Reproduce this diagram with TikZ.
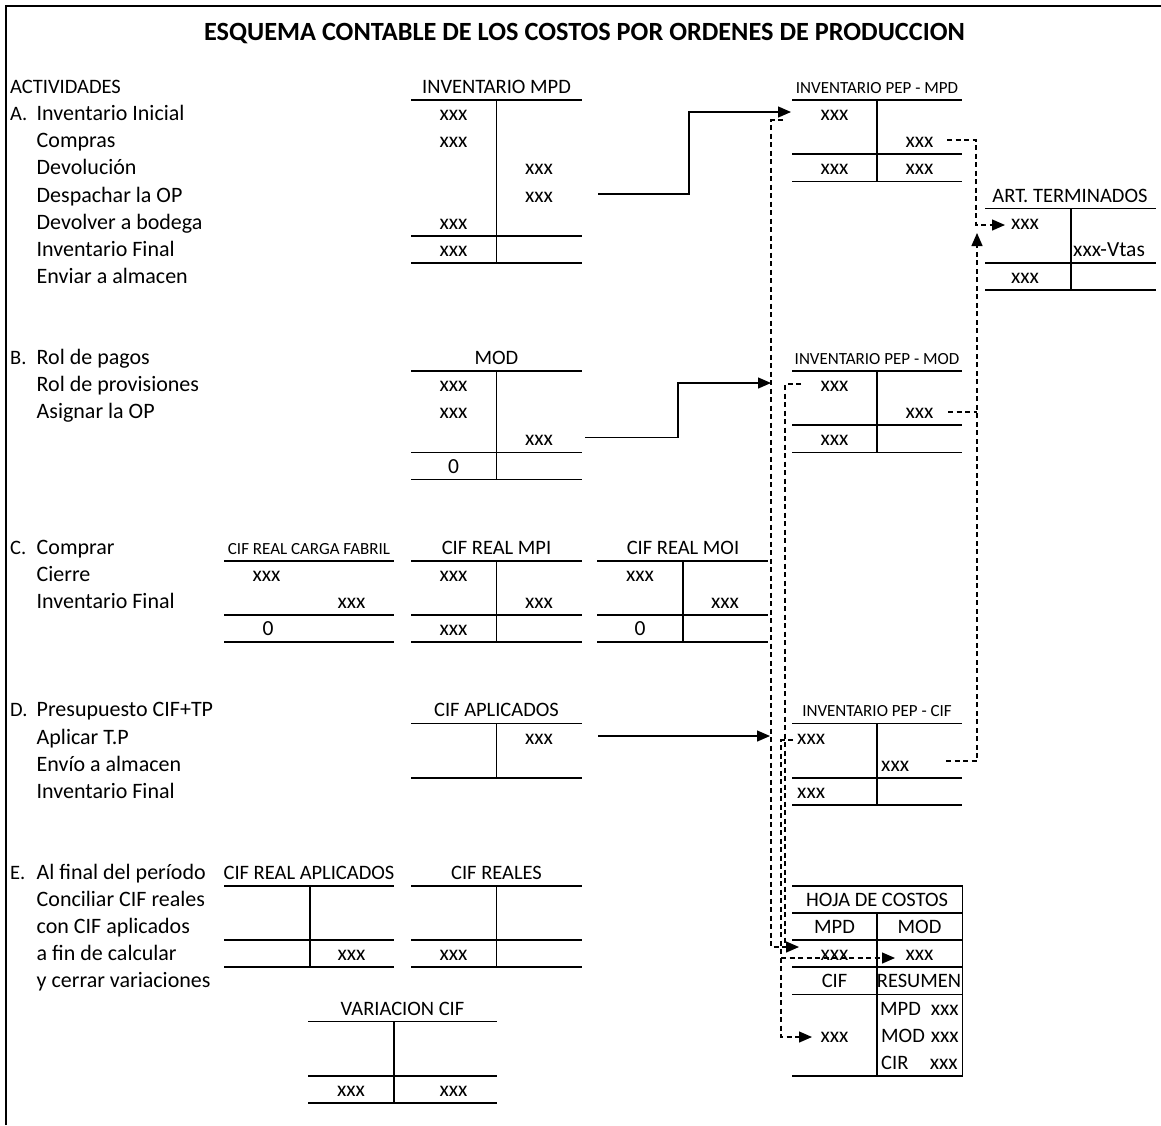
\documentclass[tikz,border=0pt]{standalone}
\usepackage{fontspec}
\setmainfont{Carlito}
\usetikzlibrary{arrows.meta}
\newcommand\rowB[1]{(93.6+27.1*(#1))}
\newcommand\rowT[1]{(73+27.1*(#1))}
\begin{document}
\begin{tikzpicture}[x=1pt,y=-1pt,
  tx/.style={inner sep=0pt, anchor=base, font=\fontsize{20.5}{24}\selectfont},
  txl/.style={tx, anchor=base west},
  txr/.style={tx, anchor=base east},
  lab/.style={inner sep=0pt, anchor=base west, font=\fontsize{22}{26}\selectfont},
  xx/.style={inner sep=0pt, anchor=base, font=\fontsize{21.5}{25}\selectfont},
  xxl/.style={xx, anchor=base west},
  xxr/.style={xx, anchor=base east},
  sm/.style={inner sep=0pt, anchor=base, font=\fontsize{17}{20}\selectfont},
  ttl/.style={inner sep=0pt, anchor=base, font=\fontsize{26.3}{30}\selectfont\bfseries},
  tline/.style={line width=1.8pt},
  conn/.style={line width=1.3pt},
  dconn/.style={line width=1.3pt, dash pattern=on 5pt off 3.5pt},
  tip/.style={-{Triangle[length=13pt,width=11pt]}}
]
\useasboundingbox (0,0) rectangle (1161,1125);
\draw[line width=1.3pt] (6,1125) -- (6,6) -- (1161,6);
\node[ttl] (title) at (584.5,40) {ESQUEMA CONTABLE DE LOS COSTOS POR ORDENES DE PRODUCCION};

% ---------- activities column
\node[txl] (act) at (10,{\rowB{0}}) {ACTIVIDADES};
\node[txl] (lA) at (10,{\rowB{1}}) {A.};
\node[lab] (a1) at (36.5,{\rowB{1}}) {Inventario Inicial};
\node[lab] (a2) at (36.5,{\rowB{2}}) {Compras};
\node[lab] (a3) at (36.5,{\rowB{3}}) {Devolución};
\node[lab] (a4) at (36.5,{\rowB{4}}) {Despachar la OP};
\node[lab] (a5) at (36.5,{\rowB{5}}) {Devolver a bodega};
\node[lab] (a6) at (36.5,{\rowB{6}}) {Inventario Final};
\node[lab] (a7) at (36.5,{\rowB{7}}) {Enviar a almacen};
\node[txl] (lB) at (10,{\rowB{10}}) {B.};
\node[lab] (b1) at (36.5,{\rowB{10}}) {Rol de pagos};
\node[lab] (b2) at (36.5,{\rowB{11}}) {Rol de provisiones};
\node[lab] (b3) at (36.5,{\rowB{12}}) {Asignar la OP};
\node[txl] (lC) at (10,{\rowB{17}}) {C.};
\node[lab] (c1) at (36.5,{\rowB{17}}) {Comprar};
\node[lab] (c2) at (36.5,{\rowB{18}}) {Cierre};
\node[lab] (c3) at (36.5,{\rowB{19}}) {Inventario Final};
\node[txl] (lD) at (10,{\rowB{23}}) {D.};
\node[lab] (d1) at (36.5,{\rowB{23}}) {Presupuesto CIF+TP};
\node[lab] (d2) at (36.5,{\rowB{24}}) {Aplicar T.P};
\node[lab] (d3) at (36.5,{\rowB{25}}) {Envío a almacen};
\node[lab] (d4) at (36.5,{\rowB{26}}) {Inventario Final};
\node[txl] (lE) at (10,{\rowB{29}}) {E.};
\node[lab] (e1) at (36.5,{\rowB{29}}) {Al final del período};
\node[lab] (e2) at (36.5,{\rowB{30}}) {Conciliar CIF reales};
\node[lab] (e3) at (36.5,{\rowB{31}}) {con CIF aplicados};
\node[lab] (e4) at (36.5,{\rowB{32}}) {a fin de calcular};
\node[lab] (e5) at (36.5,{\rowB{33}}) {y cerrar variaciones};

% ---------- INVENTARIO MPD
\node[tx] (hMPD) at (496.5,{\rowB{0}}) {INVENTARIO MPD};
\draw[tline] (411,{\rowT{1}}) -- (582,{\rowT{1}});
\draw[tline] (496.5,{\rowT{1}}) -- (496.5,{\rowT{7}});
\draw[tline] (411,{\rowT{6}}) -- (582,{\rowT{6}});
\draw[tline] (411,{\rowT{7}}) -- (582,{\rowT{7}});
\node[xx] (m1) at (453.5,{\rowB{1}}) {xxx};
\node[xx] (m2) at (453.5,{\rowB{2}}) {xxx};
\node[xx] (m3) at (539,{\rowB{3}}) {xxx};
\node[xx] (m4) at (539,{\rowB{4}}) {xxx};
\node[xx] (m5) at (453.5,{\rowB{5}}) {xxx};
\node[xx] (m6) at (453.5,{\rowB{6}}) {xxx};

% ---------- MOD
\node[tx] (hMOD) at (496.5,{\rowB{10}}) {MOD};
\draw[tline] (411,{\rowT{11}}) -- (582,{\rowT{11}});
\draw[tline] (496.5,{\rowT{11}}) -- (496.5,{\rowT{15}});
\draw[tline] (411,{\rowT{14}}) -- (582,{\rowT{14}});
\draw[tline] (411,{\rowT{15}}) -- (582,{\rowT{15}});
\node[xx] (o1) at (453.5,{\rowB{11}}) {xxx};
\node[xx] (o2) at (453.5,{\rowB{12}}) {xxx};
\node[xx] (o3) at (539,{\rowB{13}}) {xxx};
\node[xx] (o4) at (453.5,{\rowB{14}}) {0};

% ---------- CIF REAL CARGA FABRIL
\node[sm] (hCF) at (309,{\rowB{17}}) {CIF REAL CARGA FABRIL};
\draw[tline] (224,{\rowT{18}}) -- (394,{\rowT{18}});
\draw[tline] (224,{\rowT{20}}) -- (394,{\rowT{20}});
\draw[tline] (224,{\rowT{21}}) -- (394,{\rowT{21}});
\node[xx] (f1) at (266.5,{\rowB{18}}) {xxx};
\node[xx] (f2) at (351.5,{\rowB{19}}) {xxx};
\node[xx] (f3) at (268,{\rowB{20}}) {0};

% ---------- CIF REAL MPI
\node[tx] (hMPI) at (496.5,{\rowB{17}}) {CIF REAL MPI};
\draw[tline] (411,{\rowT{18}}) -- (582,{\rowT{18}});
\draw[tline] (496.5,{\rowT{18}}) -- (496.5,{\rowT{21}});
\draw[tline] (411,{\rowT{20}}) -- (582,{\rowT{20}});
\draw[tline] (411,{\rowT{21}}) -- (582,{\rowT{21}});
\node[xx] (p1) at (453.5,{\rowB{18}}) {xxx};
\node[xx] (p2) at (539,{\rowB{19}}) {xxx};
\node[xx] (p3) at (453.5,{\rowB{20}}) {xxx};

% ---------- CIF REAL MOI
\node[tx] (hMOI) at (683,{\rowB{17}}) {CIF REAL MOI};
\draw[tline] (597,{\rowT{18}}) -- (768,{\rowT{18}});
\draw[tline] (683,{\rowT{18}}) -- (683,{\rowT{21}});
\draw[tline] (597,{\rowT{20}}) -- (768,{\rowT{20}});
\draw[tline] (597,{\rowT{21}}) -- (768,{\rowT{21}});
\node[xx] (q1) at (640,{\rowB{18}}) {xxx};
\node[xx] (q2) at (725,{\rowB{19}}) {xxx};
\node[xx] (q3) at (640,{\rowB{20}}) {0};

% ---------- CIF APLICADOS
\node[tx] (hAP) at (496.5,{\rowB{23}}) {CIF APLICADOS};
\draw[tline] (411,{\rowT{24}}) -- (582,{\rowT{24}});
\draw[tline] (496.5,{\rowT{24}}) -- (496.5,{\rowT{26}});
\draw[tline] (411,{\rowT{26}}) -- (582,{\rowT{26}});
\node[xx] (ap1) at (539,{\rowB{24}}) {xxx};

% ---------- CIF REAL APLICADOS
\node[tx] (hRA) at (309,{\rowB{29}}) {CIF REAL APLICADOS};
\draw[tline] (224,{\rowT{30}}) -- (394,{\rowT{30}});
\draw[tline] (310,{\rowT{30}}) -- (310,{\rowT{33}});
\draw[tline] (224,{\rowT{32}}) -- (394,{\rowT{32}});
\draw[tline] (224,{\rowT{33}}) -- (394,{\rowT{33}});
\node[xx] (ra1) at (351.5,{\rowB{32}}) {xxx};

% ---------- CIF REALES
\node[tx] (hRE) at (496.5,{\rowB{29}}) {CIF REALES};
\draw[tline] (411,{\rowT{30}}) -- (582,{\rowT{30}});
\draw[tline] (496.5,{\rowT{30}}) -- (496.5,{\rowT{33}});
\draw[tline] (411,{\rowT{32}}) -- (582,{\rowT{32}});
\draw[tline] (411,{\rowT{33}}) -- (582,{\rowT{33}});
\node[xx] (re1) at (453.5,{\rowB{32}}) {xxx};

% ---------- VARIACION CIF
\node[tx] (hVA) at (402.5,{\rowB{34}}) {VARIACION CIF};
\draw[tline] (308,{\rowT{35}}) -- (497,{\rowT{35}});
\draw[tline] (394,{\rowT{35}}) -- (394,{\rowT{38}});
\draw[tline] (308,{\rowT{37}}) -- (497,{\rowT{37}});
\draw[tline] (308,{\rowT{38}}) -- (497,{\rowT{38}});
\node[xx] (va1) at (351,{\rowB{37}}) {xxx};
\node[xx] (va2) at (453.5,{\rowB{37}}) {xxx};

% ---------- INVENTARIO PEP - MPD
\node[sm] (hPM) at (877,{\rowB{0}}) {INVENTARIO PEP - MPD};
\draw[tline] (792,{\rowT{1}}) -- (962,{\rowT{1}});
\draw[tline] (877,{\rowT{1}}) -- (877,{\rowT{4}});
\draw[tline] (792,{\rowT{3}}) -- (962,{\rowT{3}});
\draw[tline] (792,{\rowT{4}}) -- (962,{\rowT{4}});
\node[xx] (pm1) at (834.5,{\rowB{1}}) {xxx};
\node[xx] (pm2) at (919.5,{\rowB{2}}) {xxx};
\node[xx] (pm3) at (834.5,{\rowB{3}}) {xxx};
\node[xx] (pm4) at (919.5,{\rowB{3}}) {xxx};

% ---------- ART. TERMINADOS
\node[tx] (hART) at (1070,{\rowB{4}}) {ART. TERMINADOS};
\draw[tline] (985,{\rowT{5}}) -- (1156,{\rowT{5}});
\draw[tline] (1071,{\rowT{5}}) -- (1071,{\rowT{8}});
\draw[tline] (985,{\rowT{7}}) -- (1156,{\rowT{7}});
\draw[tline] (985,{\rowT{8}}) -- (1156,{\rowT{8}});
\node[xx] (at1) at (1025,{\rowB{5}}) {xxx};
\node[xxl] (at2) at (1073,{\rowB{6}}) {xxx-Vtas};
\node[xx] (at3) at (1025,{\rowB{7}}) {xxx};

% ---------- INVENTARIO PEP - MOD
\node[sm] (hPO) at (877,{\rowB{10}}) {INVENTARIO PEP - MOD};
\draw[tline] (792,{\rowT{11}}) -- (962,{\rowT{11}});
\draw[tline] (877,{\rowT{11}}) -- (877,{\rowT{14}});
\draw[tline] (792,{\rowT{13}}) -- (962,{\rowT{13}});
\draw[tline] (792,{\rowT{14}}) -- (962,{\rowT{14}});
\node[xx] (po1) at (834.5,{\rowB{11}}) {xxx};
\node[xx] (po2) at (919.5,{\rowB{12}}) {xxx};
\node[xx] (po3) at (834.5,{\rowB{13}}) {xxx};

% ---------- INVENTARIO PEP - CIF
\node[sm] (hPC) at (877,{\rowB{23}}) {INVENTARIO PEP - CIF};
\draw[tline] (792,{\rowT{24}}) -- (962,{\rowT{24}});
\draw[tline] (877,{\rowT{24}}) -- (877,{\rowT{27}});
\draw[tline] (792,{\rowT{26}}) -- (962,{\rowT{26}});
\draw[tline] (792,{\rowT{27}}) -- (962,{\rowT{27}});
\node[xxl] (pc1) at (797,{\rowB{24}}) {xxx};
\node[xxl] (pc2) at (881,{\rowB{25}}) {xxx};
\node[xxl] (pc3) at (797,{\rowB{26}}) {xxx};

% ---------- HOJA DE COSTOS
\draw[tline] (792,{\rowT{30}}) -- (962.5,{\rowT{30}}) -- (962.5,{\rowT{37}});
\draw[tline] (792,{\rowT{31}}) -- (962.5,{\rowT{31}});
\draw[tline] (792,{\rowT{32}}) -- (962.5,{\rowT{32}});
\draw[tline] (792,{\rowT{33}}) -- (962.5,{\rowT{33}});
\draw[tline] (792,{\rowT{34}}) -- (962.5,{\rowT{34}});
\draw[tline] (792,{\rowT{37}}) -- (962.5,{\rowT{37}});
\draw[tline] (877,{\rowT{31}}) -- (877,{\rowT{37}});
\node[tx] (hHC) at (877,{\rowB{30}}) {HOJA DE COSTOS};
\node[tx] (hc1) at (834.5,{\rowB{31}}) {MPD};
\node[tx] (hc2) at (919.5,{\rowB{31}}) {MOD};
\node[xx] (hc3) at (834.5,{\rowB{32}}) {xxx};
\node[xx] (hc4) at (919.5,{\rowB{32}}) {xxx};
\node[tx] (hc5) at (834.5,{\rowB{33}}) {CIF};
\node[tx] (hc6) at (919,{\rowB{33}}) {RESUMEN};
\node[txl] (hc7) at (880,{\rowB{34}}) {MPD};
\node[xxr] (hc8) at (959,{\rowB{34}}) {xxx};
\node[txl] (hc9) at (881,{\rowB{35}}) {MOD};
\node[xxr] (hc10) at (959,{\rowB{35}}) {xxx};
\node[txl] (hc11) at (881,{\rowB{36}}) {CIR};
\node[xxr] (hc12) at (958,{\rowB{36}}) {xxx};
\node[xx] (hc13) at (834.5,{\rowB{35}}) {xxx};

% ---------- solid connectors
\coordinate (s1) at (598,194);
\coordinate (t1) at (791,112);
\draw[conn,tip] (s1) -- (689,194) -- (689,112) -- (t1);
\coordinate (s2) at (585,437.5);
\coordinate (t2) at (771,383);
\draw[conn,tip] (s2) -- (678,437.5) -- (678,383) -- (t2);
\coordinate (s3) at (598,736);
\coordinate (t3) at (770,736);
\draw[conn,tip] (s3) -- (t3);

% ---------- dashed connectors (left)
\coordinate (dA) at (783,120);
\coordinate (tA) at (799,947);
\draw[dconn,tip] (dA) -- (771,120) -- (771,947) -- (tA);
\coordinate (dB) at (801,384);
\coordinate (eB) at (785,944);
\draw[dconn] (dB) -- (785,384) -- (eB);
\coordinate (dC) at (793,740);
\coordinate (tC) at (812,1037);
\draw[dconn,tip] (dC) -- (781,740) -- (781,1037) -- (tC);
\coordinate (dM) at (781,958);
\coordinate (tM) at (895,958);
\draw[dconn,tip] (dM) -- (tM);

% ---------- dashed connectors (right)
\coordinate (r1) at (947,140);
\coordinate (tr1) at (1005,225);
\draw[dconn,tip] (r1) -- (976,140) -- (976,225) -- (tr1);
\coordinate (r2) at (948,412);
\coordinate (er2) at (977,412);
\draw[dconn] (r2) -- (er2);
\coordinate (r3) at (946,761);
\coordinate (tr3) at (977,233);
\draw[dconn,tip] (r3) -- (977,761) -- (tr3);
\end{tikzpicture}
\end{document}
